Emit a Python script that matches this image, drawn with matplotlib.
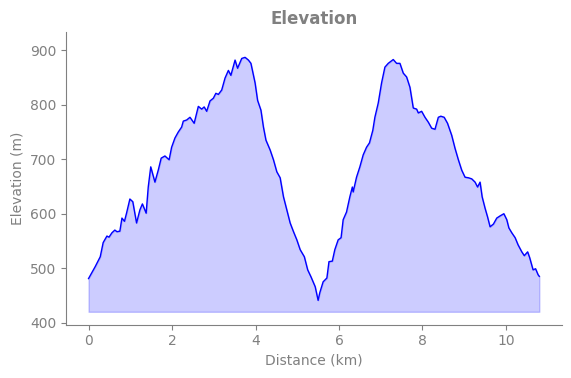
import matplotlib

matplotlib.use("Agg")
import matplotlib.pyplot as plt

# distance along the route (km) and elevation (m)
distance_km = [
    0.00, 0.16, 0.28, 0.35, 0.44, 0.49, 0.56, 0.63, 0.68, 0.75,
    0.80, 0.86, 0.91, 0.99, 1.06, 1.15, 1.23, 1.29, 1.38, 1.43,
    1.49, 1.59, 1.67, 1.74, 1.83, 1.93, 1.99, 2.07, 2.15, 2.23,
    2.27, 2.35, 2.43, 2.53, 2.63, 2.71, 2.77, 2.83, 2.91, 2.99,
    3.05, 3.11, 3.19, 3.27, 3.35, 3.41, 3.51, 3.57, 3.67, 3.75,
    3.83, 3.89, 3.99, 4.05, 4.13, 4.19, 4.25, 4.35, 4.43, 4.51,
    4.59, 4.67, 4.75, 4.83, 4.91, 4.99, 5.07, 5.17, 5.25, 5.33,
    5.43, 5.50, 5.54, 5.62, 5.71, 5.76, 5.84, 5.90, 5.98, 6.05,
    6.10, 6.18, 6.26, 6.32, 6.34, 6.42, 6.50, 6.58, 6.66, 6.73,
    6.81, 6.86, 6.94, 7.02, 7.10, 7.18, 7.30, 7.38, 7.46, 7.54,
    7.62, 7.70, 7.78, 7.86, 7.90, 7.98, 8.06, 8.14, 8.22, 8.30,
    8.38, 8.44, 8.52, 8.60, 8.70, 8.78, 8.86, 8.94, 9.02, 9.10,
    9.18, 9.26, 9.32, 9.38, 9.43, 9.50, 9.56, 9.62, 9.70, 9.78,
    9.86, 9.95, 10.02, 10.07, 10.14, 10.22, 10.29, 10.38, 10.44, 10.52,
    10.57, 10.65, 10.71, 10.77, 10.80,
]
elevation_m = [
    481, 503, 521, 547, 559, 557, 565, 570, 567, 568,
    592, 586, 601, 627, 622, 583, 607, 618, 601, 649,
    686, 658, 680, 702, 706, 699, 722, 739, 750, 759,
    770, 772, 777, 766, 797, 792, 796, 788, 807, 812,
    821, 819, 827, 849, 863, 854, 882, 867, 885, 887,
    882, 876, 840, 808, 790, 759, 735, 717, 699, 677,
    666, 631, 607, 583, 567, 552, 534, 521, 497, 484,
    466, 441, 455, 475, 482, 512, 513, 534, 552, 556,
    589, 603, 631, 649, 640, 667, 686, 708, 722, 730,
    753, 777, 803, 840, 869, 876, 883, 876, 876, 858,
    851, 832, 794, 792, 785, 788, 777, 768, 757, 755,
    777, 779, 777, 766, 744, 720, 699, 680, 667, 666,
    664, 658, 649, 658, 631, 610, 594, 576, 581, 592,
    596, 600, 589, 574, 565, 556, 543, 530, 523, 530,
    519, 497, 499, 488, 485,
]
fill_base = 420

text_grey = "#808080"

fig = plt.figure(figsize=(5.71, 3.78), dpi=100)
ax = fig.add_axes([0.1156, 0.141, 0.8684, 0.7736])

ax.fill_between(distance_km, elevation_m, fill_base, color="blue", alpha=0.2)
ax.plot(distance_km, elevation_m, color="blue", linewidth=1)

ax.set_xlim(-0.54, 11.34)
ax.set_ylim(396.3, 933)
ax.set_xticks([0, 2, 4, 6, 8, 10])
ax.set_yticks([400, 500, 600, 700, 800, 900])

ax.set_title("Elevation", color=text_grey, fontsize=12, fontweight="bold")
ax.set_xlabel("Distance (km)", color=text_grey, fontsize=10)
ax.set_ylabel("Elevation (m)", color=text_grey, fontsize=10)

for side in ("top", "right"):
    ax.spines[side].set_visible(False)
for side in ("left", "bottom"):
    ax.spines[side].set_color(text_grey)
ax.tick_params(colors=text_grey, labelsize=10)

fig.savefig("out.png", dpi=100)
